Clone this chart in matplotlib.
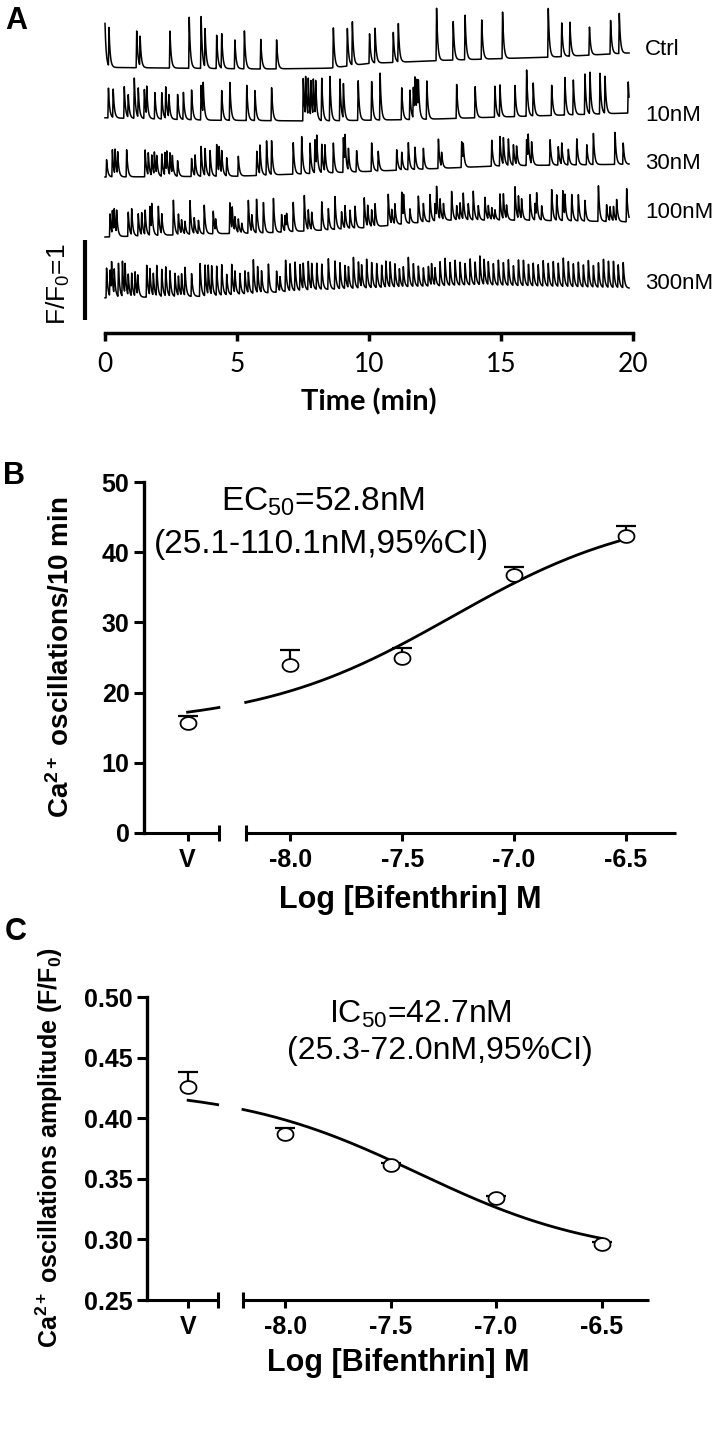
import numpy as np
import matplotlib
matplotlib.use("Agg")
import matplotlib.pyplot as plt
from matplotlib.ticker import FixedLocator

plt.rcParams['font.family'] = ['Liberation Sans', 'DejaVu Sans']
plt.rcParams['mathtext.fontset'] = 'custom'
plt.rcParams['mathtext.rm'] = 'Liberation Sans'
plt.rcParams['mathtext.it'] = 'Liberation Sans:italic'
plt.rcParams['mathtext.bf'] = 'Liberation Sans:bold'

# ---------------- Panel A: Ca2+ traces (spike times in min, amplitudes in F/F0) ----------------
trace_names = ["Ctrl", "10nM", "30nM", "100nM", "300nM"]
trace_end = 19.85

ctrl_t = [0.00, 0.15, 1.20, 1.33, 2.46, 3.19, 3.64, 3.79, 4.23, 4.42, 4.92, 5.28, 5.90, 6.50,
          8.65, 9.18, 9.37, 10.02, 10.23, 10.92, 11.11, 12.56, 13.19, 13.64, 14.27, 15.06,
          16.79, 17.30, 17.61, 18.35, 19.15, 19.48]
ctrl_h = [0.55, 0.49, 0.47, 0.37, 0.47, 0.64, 0.66, 0.48, 0.42, 0.44, 0.37, 0.48, 0.37, 0.37,
          0.51, 0.48, 0.54, 0.38, 0.44, 0.38, 0.49, 0.66, 0.49, 0.56, 0.50, 0.59,
          0.62, 0.43, 0.43, 0.36, 0.43, 0.51]
ctrl_base_t = [0, 6, 8.5, 10, 13, 17, 19.85]
ctrl_base_y = [3.32, 3.30, 3.31, 3.37, 3.41, 3.45, 3.50]

nm10_t = [0.13, 0.31, 0.73, 0.88, 1.11, 1.26, 1.49, 1.58, 1.89, 2.15, 2.30, 2.42, 2.75, 2.97,
          3.28, 3.64, 3.72, 4.42, 4.73, 5.37, 5.68, 6.31, 7.51, 7.60, 7.70, 7.80, 7.89, 7.98,
          8.21, 8.52, 8.90, 9.03, 9.59, 10.10, 10.42, 11.24, 11.55, 11.68, 11.74, 11.81, 11.87,
          12.19, 13.32, 14.02, 14.77, 14.96, 15.53, 15.97, 16.22, 16.92, 17.42, 17.74, 18.18,
          18.37, 18.75, 18.94, 19.82]
nm10_h = [0.38, 0.36, 0.40, 0.29, 0.51, 0.37, 0.37, 0.36, 0.33, 0.33, 0.40, 0.28, 0.32, 0.34,
          0.38, 0.44, 0.40, 0.38, 0.48, 0.44, 0.38, 0.42, 0.53, 0.50, 0.48, 0.45, 0.47, 0.44,
          0.54, 0.56, 0.53, 0.44, 0.50, 0.49, 0.59, 0.40, 0.37, 0.39, 0.43, 0.39, 0.37,
          0.49, 0.43, 0.40, 0.39, 0.40, 0.39, 0.59, 0.42, 0.38, 0.47, 0.44, 0.51,
          0.53, 0.51, 0.47, 0.39]
nm10_base_t = [0, 4, 8, 12, 16, 19.85]
nm10_base_y = [2.69, 2.66, 2.65, 2.67, 2.71, 2.75]

nm30_t = [0.06, 0.28, 0.38, 0.48, 0.82, 1.52, 1.64, 1.77, 1.87, 1.96, 2.15, 2.27, 2.34, 2.46,
          2.55, 2.75, 3.28, 3.41, 3.64, 3.79, 3.98, 4.23, 4.32, 4.42, 4.61, 5.05, 5.75, 5.87,
          6.12, 6.31, 7.13, 7.45, 7.77, 7.95, 8.02, 8.21, 8.33, 8.65, 9.03, 9.09, 9.22, 9.53,
          10.10, 10.35, 11.05, 11.24, 11.49, 11.74, 12.06, 12.63, 12.75, 13.51, 13.57, 14.65,
          14.96, 15.09, 15.28, 15.47, 15.59, 15.97, 16.03, 16.16, 16.86, 17.17, 17.30, 17.55,
          17.87, 18.25, 18.50, 19.32, 19.63]
nm30_h = [0.22, 0.34, 0.32, 0.28, 0.34, 0.34, 0.28, 0.26, 0.28, 0.23, 0.28, 0.29, 0.26, 0.28,
          0.23, 0.20, 0.23, 0.26, 0.38, 0.34, 0.32, 0.40, 0.32, 0.29, 0.23, 0.25, 0.31, 0.36,
          0.43, 0.43, 0.40, 0.47, 0.38, 0.42, 0.39, 0.36, 0.33, 0.38, 0.44, 0.36, 0.28, 0.27,
          0.36, 0.25, 0.26, 0.22, 0.34, 0.28, 0.26, 0.37, 0.18, 0.33, 0.22, 0.33,
          0.37, 0.34, 0.33, 0.26, 0.23, 0.33, 0.31, 0.28, 0.32, 0.23, 0.27, 0.20,
          0.33, 0.25, 0.39, 0.40, 0.27]
nm30_base_t = [0, 5, 10, 15, 19.85]
nm30_base_y = [1.95, 1.96, 2.02, 2.09, 2.11]

nm100_t = [0.19, 0.28, 0.35, 0.44, 0.88, 1.01, 1.26, 1.39, 1.52, 1.70, 1.77, 2.02, 2.15, 2.59,
           2.78, 2.90, 3.03, 3.22, 3.38, 3.54, 3.76, 4.10, 4.19, 4.73, 4.82, 4.92, 5.05, 5.18,
           5.43, 5.56, 5.74, 6.00, 6.38, 6.69, 6.82, 6.88, 7.13, 7.55, 7.70, 7.83, 8.21, 8.46,
           8.71, 8.96, 9.09, 9.28, 9.47, 9.82, 9.95, 10.10,
           10.23, 10.73, 10.86, 10.98, 11.24, 11.31, 11.55, 11.87, 12.06, 12.31, 12.50, 12.56,
           12.69, 12.82, 13.13, 13.32, 13.45, 13.57, 13.76, 13.95, 14.14, 14.39, 14.52, 14.65,
           14.77, 14.96, 15.09, 15.21, 15.53, 15.66, 15.78, 16.10, 16.29, 16.35, 16.54, 16.92,
           17.11, 17.34, 17.42, 17.68, 17.93, 18.18, 18.69, 19.00, 19.13, 19.26, 19.38, 19.76]
nm100_h = [0.29, 0.29, 0.29, 0.29, 0.31, 0.33, 0.28, 0.28, 0.31, 0.37, 0.33, 0.37, 0.25, 0.44,
           0.26, 0.17, 0.16, 0.42, 0.20, 0.17, 0.36, 0.29, 0.15, 0.39, 0.28, 0.18, 0.17, 0.12,
           0.42, 0.21, 0.43, 0.39, 0.43, 0.22, 0.20, 0.18, 0.37, 0.45, 0.25, 0.22, 0.36, 0.27,
           0.42, 0.22, 0.28, 0.23, 0.28, 0.38, 0.26, 0.21,
           0.28, 0.39, 0.18, 0.25, 0.40, 0.29, 0.18, 0.34, 0.23, 0.34, 0.22, 0.38,
           0.26, 0.20, 0.36, 0.18, 0.21, 0.33, 0.21, 0.36, 0.18, 0.29, 0.17, 0.15,
           0.12, 0.33, 0.32, 0.17, 0.42, 0.29, 0.25, 0.32, 0.21, 0.29, 0.18, 0.39,
           0.32, 0.38, 0.27, 0.33, 0.33, 0.26, 0.45, 0.21, 0.18, 0.18, 0.27, 0.42]
nm100_base_t = [0, 4, 6, 8.5, 10, 11.5, 13, 16, 19.85]
nm100_base_y = [1.20, 1.24, 1.25, 1.29, 1.32, 1.37, 1.41, 1.41, 1.39]

nm300_t = [0.06, 0.19, 0.25, 0.35, 0.51, 0.66, 0.76, 0.88, 1.01, 1.14, 1.24, 1.58, 1.70, 1.83,
           1.96, 2.15, 2.30, 2.46, 2.65, 2.78, 2.90, 3.03, 3.28, 3.60, 3.79, 3.91, 4.04, 4.23,
           4.42, 4.61, 4.80, 4.92, 5.11, 5.30, 5.43, 5.62, 5.78, 5.93, 6.19, 6.50, 6.63, 6.84,
           7.01, 7.20, 7.39, 7.51, 7.70, 7.83, 8.02, 8.21, 8.46, 8.71, 8.90, 9.09, 9.22, 9.41,
           9.60, 9.72, 9.91, 10.10,
           10.29, 10.48, 10.64, 10.80, 10.98, 11.15, 11.30, 11.49, 11.68, 11.87, 12.06, 12.25,
           12.37, 12.50, 12.69, 12.88, 13.07, 13.26, 13.45, 13.64, 13.83, 14.02, 14.20, 14.36,
           14.52, 14.71, 14.90, 15.09, 15.28, 15.47, 15.66, 15.85, 16.04, 16.22, 16.41, 16.60,
           16.79, 16.98, 17.17, 17.36, 17.55, 17.74, 17.93, 18.12, 18.31, 18.50, 18.69, 18.88,
           19.07, 19.26, 19.44, 19.63]
nm300_h = [0.38, 0.33, 0.36, 0.32, 0.42, 0.45, 0.38, 0.27, 0.29, 0.31, 0.25, 0.40, 0.34, 0.28,
           0.39, 0.34, 0.37, 0.32, 0.29, 0.25, 0.27, 0.36, 0.29, 0.42, 0.39, 0.37, 0.36, 0.37,
           0.39, 0.26, 0.38, 0.28, 0.26, 0.29, 0.26, 0.42, 0.33, 0.27, 0.36, 0.27, 0.18, 0.40,
           0.34, 0.36, 0.33, 0.32, 0.36, 0.32, 0.33, 0.32, 0.39, 0.36, 0.33, 0.29, 0.27, 0.39,
           0.33, 0.28, 0.36, 0.32,
           0.31, 0.28, 0.33, 0.32, 0.29, 0.23, 0.25, 0.37, 0.29, 0.26, 0.23, 0.25,
           0.27, 0.22, 0.31, 0.34, 0.29, 0.32, 0.29, 0.27, 0.33, 0.29, 0.36, 0.32,
           0.29, 0.27, 0.32, 0.29, 0.32, 0.25, 0.33, 0.32, 0.27, 0.29, 0.27, 0.32,
           0.29, 0.32, 0.29, 0.36, 0.32, 0.29, 0.31, 0.28, 0.34, 0.27, 0.31, 0.36,
           0.33, 0.33, 0.29, 0.32]
nm300_base_t = [0, 4, 8, 14, 19.85]
nm300_base_y = [0.44, 0.46, 0.54, 0.60, 0.56]

label_y = [3.54, 2.72, 2.12, 1.50, 0.62]

# ---------------- Panel B: oscillation frequency ----------------
x_labels = ["V", "-8.0", "-7.5", "-7.0", "-6.5"]
log_conc = [-8.0, -7.5, -7.0, -6.5]
freq_vehicle, freq_vehicle_sem = 15.6, 1.0
freq_mean = [24.0, 25.0, 36.8, 42.3]
freq_sem = [2.0, 1.4, 1.1, 1.4]
freq_fit = dict(bottom=15.3, top=46.3, log_ec50=np.log10(52.8e-9), hill=1.0)

# ---------------- Panel C: oscillation amplitude ----------------
amp_vehicle, amp_vehicle_sem = 0.426, 0.012
amp_mean = [0.387, 0.361, 0.334, 0.296]
amp_sem = [0.005, 0.002, 0.002, 0.002]
amp_fit = dict(bottom=0.284, top=0.4254, log_ic50=np.log10(42.7e-9), hill=1.0)

# ---------------- layout helpers ----------------
W, H = 717, 1434
fig = plt.figure(figsize=(W / 100, H / 100), dpi=100)


def px_box(x0, y0, x1, y1):
    return [x0 / W, 1 - y1 / H, (x1 - x0) / W, (y1 - y0) / H]


def ftext(x, y, s, **kw):
    fig.text(x / W, 1 - y / H, s, ha="center", va="center", **kw)


def build_trace(tt, times, heights, base_t, base_y):
    # sharp rise, fast exponential decay for every transient
    y = np.interp(tt, base_t, base_y)
    for ts, h in zip(times, heights):
        dt = tt - ts
        rise = (dt > -0.02) & (dt <= 0)
        y[rise] += h * (1 + dt[rise] / 0.02)
        fall = dt > 0
        y[fall] += h * np.exp(-dt[fall] / 0.045)
    return y


# ---------------- Panel A ----------------
axA = fig.add_axes(px_box(105, 0, 633, 333))
axA.set_xlim(0, 20)
axA.set_ylim(0, 333 / 80)
for s in ["left", "right", "top"]:
    axA.spines[s].set_visible(False)
axA.spines["bottom"].set_linewidth(2.5)
axA.set_yticks([])
axA.set_xticks([0, 5, 10, 15, 20])
axA.tick_params(axis="x", direction="out", length=6, width=2.5, pad=8, labelsize=19)
for lbl in axA.get_xticklabels():
    lbl.set_fontfamily("Lato")

tt = np.linspace(0, trace_end, 10000)
traces = [
    (ctrl_t, ctrl_h, ctrl_base_t, ctrl_base_y),
    (nm10_t, nm10_h, nm10_base_t, nm10_base_y),
    (nm30_t, nm30_h, nm30_base_t, nm30_base_y),
    (nm100_t, nm100_h, nm100_base_t, nm100_base_y),
    (nm300_t, nm300_h, nm300_base_t, nm300_base_y),
]
for (times, heights, bt, by), name, ly in zip(traces, trace_names, label_y):
    axA.plot(tt, build_trace(tt, times, heights, bt, by), color="black", lw=1.1, clip_on=False)
    axA.text(20.45, ly, name, fontsize=16, ha="left", va="center", clip_on=False)

# scale bar F/F0 = 1
axA.plot([-0.76, -0.76], [0.16, 1.16], color="black", lw=3, clip_on=False, solid_capstyle="butt")
axA.text(-1.78, 0.61, "F/F$_0$=1", rotation=90, ha="center", va="center", fontsize=19)
ftext(369, 402, "Time (min)", fontsize=21, fontweight="bold", family="Lato")


# ---------------- Panels B and C ----------------
v_pos = -8.46
x_lim = (-8.655, -6.275)
break_lo, break_hi = -8.32, -8.2
theta = np.linspace(0, 2 * np.pi, 60)
oval = np.column_stack([1.25 * np.cos(theta), np.sin(theta)])


def dose_axes(box, ylim, yticks, ytick_labels):
    ax = fig.add_axes(box)
    ax.set_xlim(*x_lim)
    ax.set_ylim(*ylim)
    for s in ["right", "top", "bottom"]:
        ax.spines[s].set_visible(False)
    ax.spines["left"].set_linewidth(2.4)
    y0 = ylim[0]
    ax.plot([x_lim[0], break_lo], [y0, y0], color="black", lw=2.2, clip_on=False,
            solid_capstyle="butt")
    ax.plot([break_hi, x_lim[1]], [y0, y0], color="black", lw=2.2, clip_on=False,
            solid_capstyle="butt")
    ax.set_xticks([v_pos] + log_conc)
    ax.set_xticklabels(x_labels)
    ax.xaxis.set_minor_locator(FixedLocator([break_lo, break_hi]))
    ax.set_yticks(yticks)
    ax.set_yticklabels(ytick_labels)
    ax.tick_params(axis="x", which="major", direction="out", length=6, width=2.2,
                   labelsize=18, pad=5)
    ax.tick_params(axis="y", which="major", direction="out", length=7.5, width=2.2,
                   labelsize=18, pad=3)
    ax.tick_params(axis="x", which="minor", direction="inout", length=12, width=2.2)
    for lbl in ax.get_xticklabels() + ax.get_yticklabels():
        lbl.set_fontweight("bold")
    return ax


def draw_points(ax, xs, ys, errs):
    eb = ax.errorbar(xs, ys, yerr=[np.zeros(len(errs)), errs], fmt="none", ecolor="black",
                     elinewidth=1.6, capsize=7, capthick=1.6, zorder=3)
    for cap in eb[1]:
        if np.allclose(cap.get_ydata(), ys):
            cap.set_visible(False)
    ax.plot(xs, ys, linestyle="none", marker=oval, ms=11.5, mfc="white", mec="black",
            mew=1.3, zorder=4, clip_on=False)


# Panel B
axB = dose_axes(px_box(144, 482, 676, 833), (0, 50), [0, 10, 20, 30, 40, 50],
                ["0", "10", "20", "30", "40", "50"])
p = freq_fit
for xa, xb in [(v_pos, break_lo), (break_hi, -6.5)]:
    xs = np.linspace(xa, xb, 200)
    ys = p["bottom"] + (p["top"] - p["bottom"]) / (1 + 10 ** ((p["log_ec50"] - xs) * p["hill"]))
    axB.plot(xs, ys, color="black", lw=2.0, zorder=2)
draw_points(axB, [v_pos] + log_conc, [freq_vehicle] + freq_mean, [freq_vehicle_sem] + freq_sem)

ftext(323, 502, "EC$_{50}$=52.8nM", fontsize=24)
ftext(321, 544, "(25.1-110.1nM,95%CI)", fontsize=24)
ftext(61, 657, "Ca$^{\\mathbf{2+}}$ oscillations/10 min", rotation=90, fontsize=20,
      fontweight="bold")
ftext(410, 900, "Log [Bifenthrin] M", fontsize=22, fontweight="bold")

# Panel C
axC = dose_axes(px_box(147, 997, 649, 1300), (0.25, 0.50),
                [0.25, 0.30, 0.35, 0.40, 0.45, 0.50],
                ["0.25", "0.30", "0.35", "0.40", "0.45", "0.50"])
p = amp_fit
for xa, xb in [(v_pos, break_lo), (break_hi, -6.5)]:
    xs = np.linspace(xa, xb, 200)
    ys = p["bottom"] + (p["top"] - p["bottom"]) / (1 + 10 ** ((xs - p["log_ic50"]) * p["hill"]))
    axC.plot(xs, ys, color="black", lw=2.0, zorder=2)
draw_points(axC, [v_pos] + log_conc, [amp_vehicle] + amp_mean, [amp_vehicle_sem] + amp_sem)

ftext(420, 1014, "IC$_{50}$=42.7nM", fontsize=23)
ftext(440, 1051, "(25.3-72.0nM,95%CI)", fontsize=23)
ftext(49, 1148, "Ca$^{\\mathbf{2+}}$ oscillations amplitude (F/F$_{\\mathbf{0}}$)", rotation=90,
      fontsize=18, fontweight="bold")
ftext(398, 1363, "Log [Bifenthrin] M", fontsize=22, fontweight="bold")

# panel letters
ftext(16, 21, "A", fontsize=22, fontweight="bold")
ftext(14, 476, "B", fontsize=22, fontweight="bold")
ftext(16, 932, "C", fontsize=22, fontweight="bold")

fig.savefig("out.png", dpi=100)
